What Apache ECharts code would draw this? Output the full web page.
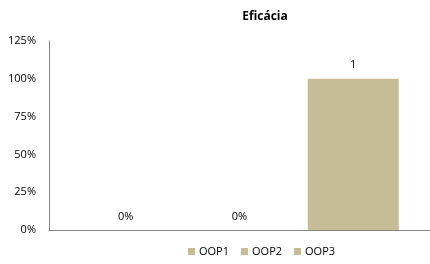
<!DOCTYPE html>
<html lang="pt">
<head>
    <meta charset="UTF-8">
    <title>Eficácia</title>
    <script src="https://cdn.jsdelivr.net/npm/echarts@6/dist/echarts.min.js"></script>
</head>
<body style="margin:0;">
<div id="container" style="width:430px;height:264px;"></div>
<script>
    // uma categoria, três séries
    var seriesNames = ['OOP1', 'OOP2', 'OOP3'];
    var values = [0, 0, 1];
    var valueLabels = ['0%', '0%', '1'];
    var yTicks = ['0%', '25%', '50%', '75%', '100%', '125%'];

    var barColor = '#c6bd96';
    var fontFamily = '"Open Sans", "Liberation Sans", sans-serif';

    var myChart = echarts.init(document.getElementById('container'));

    var series = seriesNames.map(function (name, i) {
        return {
            name: name,
            type: 'bar',
            data: [values[i]],
            barWidth: 91,
            barGap: '25%',
            itemStyle: {color: barColor},
            label: {
                show: true,
                position: 'top',
                distance: 8,
                color: '#000',
                fontSize: 11,
                fontFamily: fontFamily,
                formatter: function () {
                    return valueLabels[i];
                }
            }
        };
    });

    var option = {
        animation: false,
        backgroundColor: '#fff',
        title: {
            text: 'Eficácia',
            left: 260,
            top: 6,
            textAlign: 'center',
            textStyle: {fontSize: 12, fontWeight: 'bold', color: '#000', fontFamily: fontFamily}
        },
        legend: {
            data: seriesNames,
            bottom: 2,
            left: 183,
            itemWidth: 7,
            itemHeight: 7,
            itemGap: 12,
            icon: 'rect',
            textStyle: {fontSize: 11, color: '#000', fontFamily: fontFamily, padding: [0, 0, 0, -1]}
        },
        grid: {left: 49, right: -2, top: 41, bottom: 34, containLabel: false},
        xAxis: {
            type: 'category',
            data: [''],
            axisLine: {lineStyle: {color: '#868686'}},
            axisTick: {show: false},
            axisLabel: {show: false}
        },
        yAxis: {
            type: 'value',
            min: 0,
            max: 1.25,
            interval: 0.25,
            axisLine: {show: true, lineStyle: {color: '#868686'}},
            axisTick: {show: false},
            splitLine: {show: false},
            axisLabel: {
                margin: 13,
                color: '#000',
                fontSize: 11,
                fontFamily: fontFamily,
                formatter: function (v) {
                    return yTicks[Math.round(v / 0.25)];
                }
            }
        },
        series: series
    };

    myChart.setOption(option);
</script>
</body>
</html>
